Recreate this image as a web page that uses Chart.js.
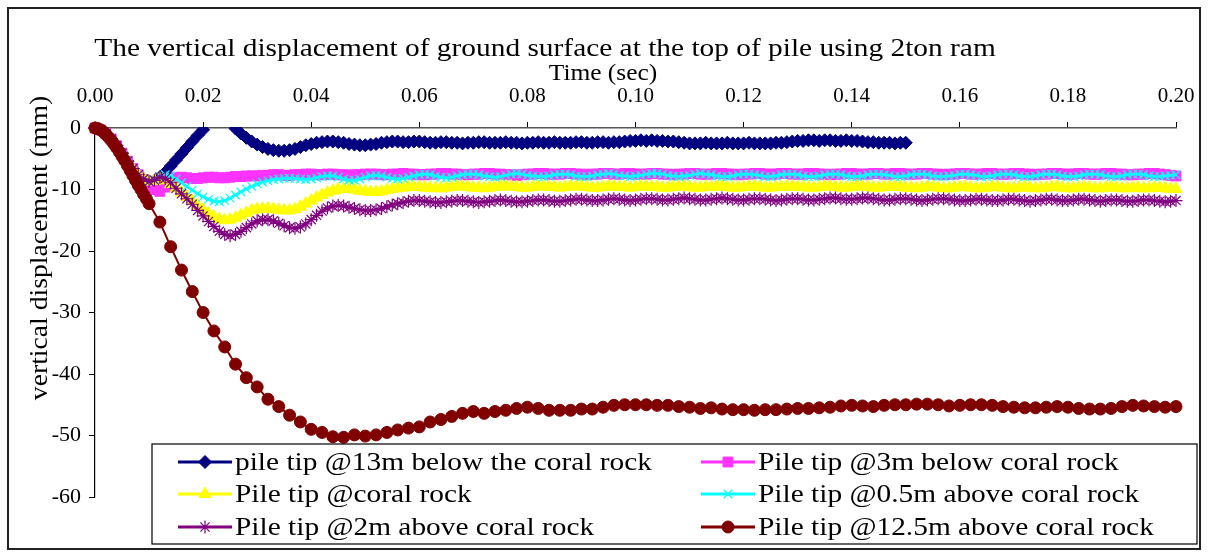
<!DOCTYPE html>
<html>
<head>
<meta charset="utf-8">
<script src="https://cdn.jsdelivr.net/npm/chart.js@4.4.1/dist/chart.umd.min.js"></script>
<style>
  html, body { margin: 0; padding: 0; background: #fff; }
</style>
</head>
<body>
<canvas id="chart1" width="1209" height="558"></canvas>
<script>
// recorded at 1 ms intervals
const dt = 0.001;
const time = Array.from({ length: 201 }, (_, i) => +(i * dt).toFixed(3));

const timeTicks = [0.00, 0.02, 0.04, 0.06, 0.08, 0.10, 0.12, 0.14, 0.16, 0.18, 0.20];
const dispTicks = [0, -10, -20, -30, -40, -50, -60];

const seriesNames = [
  "pile tip @13m below the coral rock",
  "Pile tip @3m below coral rock",
  "Pile tip @coral rock",
  "Pile tip @0.5m above coral rock",
  "Pile tip @2m above coral rock",
  "Pile tip @12.5m above coral rock"
];

// vertical displacement (mm)
const tip13mBelow = [
  0, -0.3, -0.9, -1.8, -2.9, -4.1, -5.4, -6.6, -7.6, -8.3, -8.7,
  -8.6, -8.0, -7.2, -6.2, -5.2, -4.2, -3.2, -2.2, -1.2, -0.3,
  1.5, 2.5, 3.0, 2.5, 1.4, -0.1, -0.9, -1.6, -2.2, -2.7,
  -3.1, -3.4, -3.6, -3.7, -3.7, -3.6, -3.4, -3.1, -2.8, -2.6,
  -2.4, -2.3, -2.2, -2.2, -2.3, -2.4, -2.6, -2.7, -2.8, -2.8,
  -2.7, -2.6, -2.4, -2.3, -2.2, -2.2, -2.3, -2.3, -2.2, -2.2,
  -2.3, -2.4, -2.4, -2.3, -2.3, -2.4, -2.4, -2.5, -2.4, -2.4,
  -2.3, -2.3, -2.4, -2.4, -2.4, -2.3, -2.4, -2.4, -2.5, -2.4,
  -2.4, -2.3, -2.4, -2.4, -2.3, -2.4, -2.4, -2.4, -2.3, -2.3,
  -2.4, -2.4, -2.3, -2.3, -2.4, -2.3, -2.3, -2.2, -2.1, -2.1,
  -2.0, -2.1, -2.0, -2.1, -2.1, -2.2, -2.2, -2.3, -2.4, -2.5,
  -2.5, -2.5, -2.4, -2.5, -2.5, -2.5, -2.4, -2.5, -2.5, -2.5,
  -2.4, -2.5, -2.5, -2.5, -2.5, -2.4, -2.4, -2.3, -2.2, -2.1,
  -2.1, -2.0, -2.0, -2.1, -2.0, -2.0, -2.1, -2.1, -2.0, -2.1,
  -2.1, -2.2, -2.3, -2.3, -2.4, -2.4, -2.4, -2.5, -2.4, -2.4
];

const tip3mBelow = [
  0, -0.3, -0.9, -1.8, -2.9, -4.1, -5.4, -6.6, -7.6, -8.4, -9.2,
  -10.0, -10.3, -9.6, -8.7, -8.1, -8.0, -8.1, -8.2, -8.2, -8.1,
  -8.0, -8.0, -8.1, -8.1, -8.0, -7.9, -7.9, -7.8, -7.8, -7.8,
  -7.7, -7.7, -7.6, -7.6, -7.7, -7.7, -7.6, -7.6, -7.5, -7.5,
  -7.6, -7.6, -7.5, -7.5, -7.6, -7.6, -7.7, -7.6, -7.6, -7.5,
  -7.5, -7.5, -7.6, -7.6, -7.5, -7.5, -7.4, -7.5, -7.5, -7.6,
  -7.6, -7.5, -7.5, -7.4, -7.4, -7.5, -7.5, -7.6, -7.6, -7.5,
  -7.5, -7.4, -7.4, -7.5, -7.5, -7.6, -7.6, -7.7, -7.6, -7.5,
  -7.5, -7.4, -7.4, -7.5, -7.5, -7.5, -7.4, -7.4, -7.5, -7.5,
  -7.6, -7.5, -7.5, -7.4, -7.4, -7.5, -7.5, -7.4, -7.4, -7.5,
  -7.5, -7.5, -7.4, -7.4, -7.5, -7.5, -7.6, -7.5, -7.5, -7.4,
  -7.4, -7.5, -7.5, -7.5, -7.4, -7.4, -7.5, -7.5, -7.6, -7.5,
  -7.5, -7.4, -7.4, -7.5, -7.5, -7.5, -7.4, -7.4, -7.5, -7.5,
  -7.5, -7.4, -7.4, -7.5, -7.5, -7.6, -7.5, -7.5, -7.4, -7.4,
  -7.5, -7.5, -7.5, -7.4, -7.4, -7.5, -7.5, -7.4, -7.4, -7.5,
  -7.5, -7.5, -7.4, -7.4, -7.5, -7.5, -7.6, -7.5, -7.5, -7.4,
  -7.4, -7.5, -7.5, -7.5, -7.4, -7.4, -7.5, -7.5, -7.5, -7.4,
  -7.4, -7.5, -7.5, -7.6, -7.5, -7.5, -7.4, -7.4, -7.5, -7.5,
  -7.5, -7.4, -7.4, -7.5, -7.5, -7.5, -7.4, -7.4, -7.5, -7.5,
  -7.6, -7.6, -7.5, -7.5, -7.4, -7.4, -7.5, -7.6, -7.7, -7.8
];

const tipCoral = [
  0, -0.3, -0.9, -1.8, -2.9, -4.1, -5.4, -6.6, -7.6, -8.3, -8.7,
  -8.6, -8.3, -8.5, -9.1, -9.8, -10.5, -11.2, -11.9, -12.6, -13.3,
  -13.9, -14.4, -14.8, -15.0, -14.9, -14.6, -14.2, -13.8, -13.4, -13.2,
  -13.1, -13.1, -13.2, -13.3, -13.4, -13.4, -13.2, -12.8, -12.3, -11.8,
  -11.3, -10.9, -10.5, -10.2, -10.0, -9.9, -9.9, -10.0, -10.2, -10.3,
  -10.4, -10.4, -10.3, -10.1, -9.9, -9.8, -9.7, -9.6, -9.6, -9.6,
  -9.7, -9.7, -9.8, -9.8, -9.7, -9.6, -9.5, -9.5, -9.6, -9.7,
  -9.7, -9.8, -9.7, -9.6, -9.5, -9.5, -9.5, -9.6, -9.7, -9.7,
  -9.6, -9.5, -9.5, -9.6, -9.6, -9.7, -9.6, -9.5, -9.5, -9.5,
  -9.6, -9.7, -9.7, -9.6, -9.5, -9.5, -9.6, -9.6, -9.7, -9.6,
  -9.5, -9.5, -9.6, -9.6, -9.7, -9.7, -9.6, -9.5, -9.5, -9.6,
  -9.7, -9.7, -9.6, -9.6, -9.5, -9.5, -9.6, -9.7, -9.7, -9.6,
  -9.5, -9.5, -9.6, -9.7, -9.7, -9.6, -9.6, -9.5, -9.5, -9.6,
  -9.6, -9.7, -9.7, -9.6, -9.5, -9.5, -9.6, -9.7, -9.7, -9.6,
  -9.5, -9.5, -9.6, -9.7, -9.7, -9.6, -9.6, -9.5, -9.6, -9.7,
  -9.7, -9.8, -9.7, -9.6, -9.6, -9.7, -9.8, -9.8, -9.7, -9.6,
  -9.6, -9.7, -9.8, -9.8, -9.7, -9.6, -9.6, -9.7, -9.8, -9.8,
  -9.7, -9.6, -9.7, -9.8, -9.8, -9.7, -9.6, -9.6, -9.7, -9.8,
  -9.8, -9.7, -9.6, -9.7, -9.8, -9.8, -9.7, -9.6, -9.7, -9.8,
  -9.8, -9.7, -9.7, -9.8, -9.8, -9.7, -9.7, -9.8, -9.9, -9.9
];

const tip05mAbove = [
  0, -0.3, -0.9, -1.8, -2.9, -4.1, -5.4, -6.6, -7.6, -8.3, -8.7,
  -8.4, -7.9, -7.6, -7.8, -8.3, -8.9, -9.5, -10.1, -10.7, -11.2,
  -11.6, -11.9, -12.0, -11.8, -11.4, -10.9, -10.4, -9.9, -9.5, -9.1,
  -8.8, -8.6, -8.4, -8.3, -8.2, -8.2, -8.2, -8.3, -8.4, -8.3,
  -8.1, -7.9, -7.8, -7.8, -8.0, -8.3, -8.5, -8.5, -8.3, -8.0,
  -7.8, -7.7, -7.8, -8.0, -8.2, -8.3, -8.2, -8.0, -7.8, -7.6,
  -7.5, -7.6, -7.8, -8.0, -8.1, -8.0, -7.8, -7.6, -7.5, -7.5,
  -7.6, -7.8, -7.9, -8.0, -7.9, -7.7, -7.5, -7.4, -7.5, -7.7,
  -7.8, -7.9, -7.9, -7.8, -7.6, -7.5, -7.5, -7.6, -7.8, -7.9,
  -7.9, -7.8, -7.6, -7.5, -7.4, -7.5, -7.7, -7.8, -7.9, -7.8,
  -7.7, -7.5, -7.4, -7.4, -7.5, -7.7, -7.8, -7.9, -7.8, -7.7,
  -7.5, -7.4, -7.5, -7.6, -7.8, -7.9, -7.9, -7.8, -7.6, -7.5,
  -7.5, -7.6, -7.7, -7.9, -7.9, -7.8, -7.6, -7.5, -7.5, -7.6,
  -7.8, -7.9, -7.9, -7.8, -7.6, -7.5, -7.5, -7.6, -7.8, -7.9,
  -7.9, -7.8, -7.6, -7.5, -7.5, -7.6, -7.7, -7.9, -7.9, -7.8,
  -7.6, -7.5, -7.5, -7.6, -7.8, -7.9, -7.9, -7.8, -7.7, -7.5,
  -7.5, -7.6, -7.7, -7.9, -7.9, -7.8, -7.6, -7.5, -7.5, -7.6,
  -7.8, -7.9, -7.9, -7.8, -7.6, -7.5, -7.5, -7.6, -7.8, -7.9,
  -7.9, -7.8, -7.6, -7.5, -7.5, -7.6, -7.8, -7.9, -7.9, -7.8,
  -7.6, -7.5, -7.5, -7.6, -7.8, -7.9, -7.9, -7.8, -7.7, -7.6
];

const tip2mAbove = [
  0, -0.3, -0.9, -1.8, -2.9, -4.1, -5.4, -6.6, -7.6, -8.3, -8.7,
  -8.5, -8.0, -8.2, -8.9, -9.8, -10.7, -11.5, -12.4, -13.4, -14.3,
  -15.2, -16.0, -16.8, -17.3, -17.5, -17.3, -16.8, -16.2, -15.6, -15.1,
  -14.9, -14.9, -15.1, -15.5, -15.9, -16.2, -16.3, -16.1, -15.6, -14.9,
  -14.2, -13.5, -13.0, -12.7, -12.6, -12.7, -12.9, -13.1, -13.3, -13.4,
  -13.4, -13.3, -13.1, -12.8, -12.5, -12.3, -12.1, -11.9, -11.8, -11.8,
  -11.9, -12.0, -12.1, -12.1, -12.0, -11.9, -11.8, -11.8, -11.9, -12.0,
  -12.1, -12.0, -11.9, -11.8, -11.7, -11.8, -11.9, -12.0, -12.0, -11.9,
  -11.8, -11.7, -11.7, -11.8, -11.9, -11.9, -11.8, -11.7, -11.6, -11.6,
  -11.7, -11.8, -11.8, -11.7, -11.6, -11.5, -11.6, -11.7, -11.8, -11.7,
  -11.6, -11.5, -11.5, -11.6, -11.7, -11.7, -11.6, -11.5, -11.4, -11.5,
  -11.6, -11.7, -11.7, -11.6, -11.5, -11.4, -11.5, -11.6, -11.7, -11.7,
  -11.6, -11.5, -11.5, -11.6, -11.7, -11.8, -11.7, -11.6, -11.5, -11.5,
  -11.6, -11.7, -11.7, -11.6, -11.5, -11.4, -11.4, -11.5, -11.6, -11.6,
  -11.5, -11.4, -11.4, -11.5, -11.6, -11.7, -11.7, -11.6, -11.5, -11.5,
  -11.6, -11.7, -11.8, -11.7, -11.6, -11.5, -11.5, -11.6, -11.7, -11.8,
  -11.8, -11.7, -11.6, -11.6, -11.7, -11.8, -11.8, -11.7, -11.6, -11.6,
  -11.7, -11.8, -11.9, -11.8, -11.7, -11.6, -11.6, -11.7, -11.8, -11.8,
  -11.7, -11.6, -11.6, -11.7, -11.8, -11.9, -11.8, -11.7, -11.7, -11.8,
  -11.9, -11.9, -11.8, -11.7, -11.7, -11.8, -11.9, -12.0, -11.9, -11.8
];

// this gauge was logged every 0.5 ms up to 10 ms, then every 2 ms
const redTimeEarly = [
  0, 0.0005, 0.001, 0.0015, 0.002, 0.0025, 0.003, 0.0035, 0.004, 0.0045,
  0.005, 0.0055, 0.006, 0.0065, 0.007, 0.0075, 0.008, 0.0085, 0.009, 0.0095, 0.010
];
const redTime = redTimeEarly.concat(time.filter(t => t > 0.010 && Math.round(t * 1000) % 2 === 0));
const tip125mAbove = [
  0, -0.1, -0.3, -0.6, -1.0, -1.5, -2.0, -2.6, -3.2, -3.9,
  -4.6, -5.3, -6.1, -6.9, -7.7, -8.5, -9.3, -10.0, -10.8, -11.5, -12.3,
  -15.3, -19.3, -23.1, -26.6, -30.0, -33.0, -35.6, -38.4, -40.6, -42.1,
  -44.1, -45.3, -46.7, -47.8, -49.0, -49.5, -50.2, -50.3, -49.9, -50.1,
  -49.9, -49.5, -49.1, -48.8, -48.6, -47.8, -47.4, -46.9, -46.4, -46.1,
  -46.4, -46.1, -45.9, -45.6, -45.4, -45.6, -45.9, -45.9, -45.9, -45.7,
  -45.7, -45.4, -45.1, -45.0, -45.0, -45.0, -45.1, -45.1, -45.3, -45.4,
  -45.6, -45.5, -45.7, -45.8, -45.8, -45.9, -45.8, -45.8, -45.7, -45.6,
  -45.6, -45.5, -45.4, -45.2, -45.1, -45.2, -45.3, -45.1, -45.0, -45.0,
  -44.9, -44.9, -45.0, -45.2, -45.1, -45.0, -45.0, -45.1, -45.3, -45.4,
  -45.5, -45.5, -45.4, -45.3, -45.4, -45.6, -45.7, -45.7, -45.6, -45.3,
  -45.1, -45.2, -45.3, -45.4, -45.3
];

const serif = "'Liberation Serif', 'Times New Roman', serif";

function pts(xs, ys) {
  return ys.map((y, i) => ({ x: xs[i], y: y }));
}

function series(name, values, xs, color, style, radius, order, extra) {
  return Object.assign({
    label: name,
    data: pts(xs, values),
    borderColor: color,
    backgroundColor: color,
    borderWidth: 2.5,
    pointStyle: style,
    pointRadius: radius,
    pointBackgroundColor: color,
    pointBorderColor: color,
    pointBorderWidth: 1,
    tension: 0,
    clip: false,
    order: order
  }, extra || {});
}

const datasets = [
  series(seriesNames[0], tip13mBelow, time, '#000080', 'rectRot', 6.5, 6,
    { clip: { left: false, top: 1, right: false, bottom: false } }),
  series(seriesNames[1], tip3mBelow, time, '#ff33ff', 'rect', 7, 5),
  series(seriesNames[2], tipCoral, time, '#ffff00', 'triangle', 7, 4),
  series(seriesNames[3], tip05mAbove, time, '#00ffff', 'crossRot', 6, 3, { pointBorderWidth: 1.2 }),
  series(seriesNames[4], tip2mAbove, time, '#800080', 'star', 6.5, 2, { pointBorderWidth: 1.2 }),
  series(seriesNames[5], tip125mAbove, redTime, '#800000', 'circle', 6, 1, { borderWidth: 2 })
];

function stretchedText(ctx, text, x, y, align, sx) {
  ctx.save();
  ctx.translate(x, y);
  ctx.scale(sx, 1);
  ctx.textAlign = align;
  ctx.fillText(text, 0, 0);
  ctx.restore();
}

// frame, titles and the boxed legend
const decorations = {
  id: 'decorations',
  afterDraw(chart) {
    const ctx = chart.ctx;
    const sx = 1.13;
    ctx.save();
    ctx.fillStyle = '#000';
    ctx.textBaseline = 'alphabetic';

    ctx.font = '26px ' + serif;
    stretchedText(ctx, 'The vertical displacement of ground surface at the top of pile using 2ton ram', 545, 56, 'center', sx);

    ctx.font = '22.5px ' + serif;
    stretchedText(ctx, 'Time (sec)', 603, 80, 'center', sx);

    ctx.save();
    ctx.translate(47, 248);
    ctx.rotate(-Math.PI / 2);
    ctx.font = '24.5px ' + serif;
    stretchedText(ctx, 'vertical displacement (mm)', 0, 0, 'center', sx);
    ctx.restore();

    // legend
    const box = { x: 152, y: 444, w: 1045, h: 100 };
    ctx.fillStyle = '#fff';
    ctx.fillRect(box.x, box.y, box.w, box.h);
    ctx.strokeStyle = '#000';
    ctx.lineWidth = 1.2;
    ctx.strokeRect(box.x, box.y, box.w, box.h);

    const cols = [205, 728];
    const rows = [462, 494, 527];
    ctx.font = '26px ' + serif;
    ctx.textBaseline = 'middle';
    chart.data.datasets.forEach((ds, i) => {
      const cx = cols[i % 2];
      const cy = rows[Math.floor(i / 2)];
      ctx.strokeStyle = ds.borderColor;
      ctx.lineWidth = 3;
      ctx.beginPath();
      ctx.moveTo(cx - 27, cy);
      ctx.lineTo(cx + 27, cy);
      ctx.stroke();
      if (Chart.helpers && Chart.helpers.drawPoint) {
        ctx.fillStyle = ds.pointBackgroundColor;
        ctx.strokeStyle = ds.pointBorderColor;
        ctx.lineWidth = ds.pointBorderWidth;
        Chart.helpers.drawPoint(ctx, {
          pointStyle: ds.pointStyle,
          radius: ds.pointRadius,
          rotation: 0,
          borderWidth: ds.pointBorderWidth
        }, cx, cy);
      }
      ctx.fillStyle = '#000';
      stretchedText(ctx, ds.label, cx + 30, cy + 1, 'left', sx);
    });

    // outer frame
    ctx.strokeStyle = '#222';
    ctx.lineWidth = 2;
    ctx.strokeRect(8, 8, 1192, 541);
    ctx.restore();
  }
};

new Chart('chart1', {
  type: 'line',
  data: { datasets: datasets },
  options: {
    responsive: false,
    animation: false,
    events: [],
    layout: { padding: { left: 0, top: 0, right: 33, bottom: 61 } },
    plugins: {
      legend: { display: false },
      title: { display: false },
      tooltip: { enabled: false }
    },
    scales: {
      x: {
        type: 'linear',
        position: 'top',
        min: 0,
        max: 0.2,
        afterFit: (scale) => { scale.height = 128; },
        afterBuildTicks: (scale) => { scale.ticks = timeTicks.map(v => ({ value: v })); },
        grid: { drawOnChartArea: false, drawTicks: true, tickLength: 6, color: '#000' },
        border: { color: '#555', width: 1.5 },
        ticks: {
          padding: 13,
          maxRotation: 0,
          color: '#000',
          font: { family: serif, size: 21 },
          callback: (v) => Number(v).toFixed(2)
        }
      },
      y: {
        min: -60,
        max: 0,
        afterFit: (scale) => { scale.width = 95; },
        afterBuildTicks: (scale) => { scale.ticks = dispTicks.map(v => ({ value: v })); },
        grid: { drawOnChartArea: false, drawTicks: true, tickLength: 6, color: '#000' },
        border: { color: '#000', width: 1.2 },
        ticks: {
          padding: 8,
          color: '#000',
          font: { family: serif, size: 22 },
          callback: (v) => String(v)
        }
      }
    }
  },
  plugins: [decorations]
});
</script>
</body>
</html>
